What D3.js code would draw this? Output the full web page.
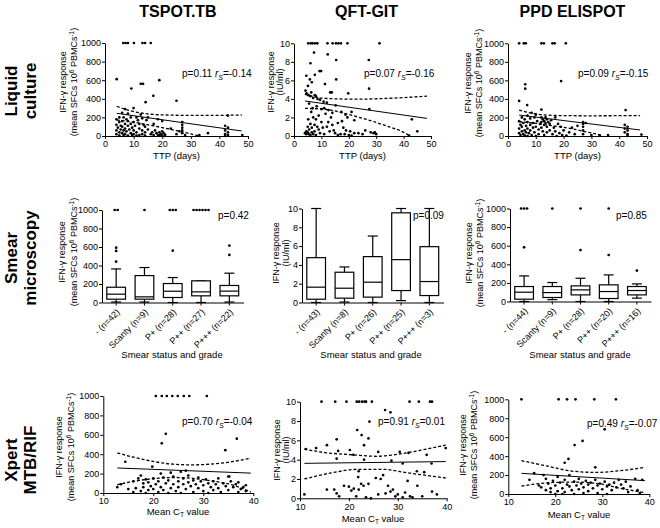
<!DOCTYPE html>
<html><head><meta charset="utf-8">
<script src="https://cdn.jsdelivr.net/npm/d3@7"></script>
<style>body{margin:0;background:#fff}</style>
</head><body>
<svg id="c" width="660" height="528"></svg>
<script>
// ================= DATA =================
const colTitles = ["TSPOT.TB", "QFT-GIT", "PPD ELISPOT"];
const rowTitles = [["Liquid", "culture"], ["Smear", "microscopy"], ["Xpert", "MTB/RIF"]];

const ttpTicks = [0, 10, 20, 30, 40, 50];
const ctTicks = [10, 20, 30, 40];
const sfcTicks = [0, 200, 400, 600, 800, 1000];
const iuTicks = [0, 2, 4, 6, 8, 10];

// Row 1: IFN-g response vs time to positivity (days)
const tspotTTP = [
  [6.4,1000],[7.2,1000],[8.0,1000],[10.1,1000],[13.1,1000],[14.0,1000],[16.0,1000],
  [4.1,611],[9.2,511],[12.5,561],[13.3,561],[19,600],[16.9,432],[14.2,364],[25,379],
  [4,60],[4,120],[4,180],[4,20],[4.5,90],[5,150],[5,40],[5,200],[5,5],[5.5,110],[5.5,70],[6,250],[6,30],[6,160],[6,100],[6.5,60],[6.5,200],[6.5,10],
  [7,290],[7,130],[7,80],[7,20],[7.5,180],[7.5,50],[8,240],[8,110],[8,5],[8,160],[8.5,70],[9,200],[9,30],[9,130],[9.5,90],[9.5,10],
  [10,300],[10,150],[10,60],[10,20],[10.5,110],[11,200],[11,40],[11,5],[11.5,170],[12,80],[12,130],[12,10],[12.5,230],
  [13,190],[13,60],[13,20],[13.5,120],[14,100],[14,40],[14,5],[14.5,170],[15,200],[15,70],
  [16,20],[16.5,40],[17,130],[17,10],[17.5,60],[18,30],[18.5,180],[18.5,10],[19,40],[19,5],[19.5,20],[20,160],[20,50],[20,5],[20.5,30],[21,15],[21,0],
  [23,80],[25,20],[26,50],[27,150],[27,120],[27,90],[27,60],[27,30],[28,10],
  [33,10],[36,30],[42,110],[42,60],[42,20],[42,0],[43,90],[43,40],[43,10],[43,220],[48,10]
];
const qftTTP = [
  [5.2,10],[6.1,10],[6.8,10],[7.7,10],[8.5,10],[12.2,10],[14.1,10],[15.3,10],[16.2,10],[17.1,10],[19.5,10],[31.2,10],
  [7.3,9.0],[12.3,8.8],[15.4,8.2],[27.3,8.2],[6,7.85],[9.3,7.0],[9.9,7.0],[4.5,6.5],[5.8,6.1],[7.6,6.6],[15.4,6.1],[11.3,5.6],[27.4,5.1],[5.1,5.4],[6.5,5.8],
  [4.2,4.9],[4.6,4.6],[5.3,4.4],[6,4.3],[6.3,4.7],[7,4.1],[7.6,4.4],[8,4.3],[8.6,4.0],[9.5,3.9],[10.8,3.7],[12,3.6],[13.2,4.7],[13.8,4.7],[19.8,4.6],
  [5.5,3.5],[6.8,3.0],[8.3,3.2],[10,2.9],[11,3.0],[12.6,2.8],[14,2.5],[15.2,3.3],[17.3,2.6],[18.8,2.3],[19.5,2.0],[21,2.6],[22,1.7],[16,1.4],[27.5,2.9],
  [28,0.4],[29,0.3],[25,0.2],[22,0.3],[20,0.1],[21,0.05],[43,1.8],[45,0.5],[42,0.05],[19,0.6],[18,0.9],[17,0.2],[16,0.1],[15,0.3],[14,1.2],[13,0.5],
  [12,1.0],[12.5,1.5],[11,0.2],[10.5,0.9],[10,1.5],[9.5,0.3],[9,2.2],[9,0.7],[8.5,1.0],[8,0.1],[8,1.8],[7.5,0.5],[7.5,1.2],[7,0.2],[7,2.0],[6.5,0.9],
  [6.5,0.4],[6,1.3],[6,0.1],[5.5,0.7],[5.5,0.2],[5,1.0],[5,0.4],[4.5,0.2],[4.5,0.5],[4,0.3],[6.3,2.6],[5.2,1.8],[11.5,2.4],[13.5,2.0],[14.5,0.6],
  [17.5,1.6],[18.5,0.2],[20.5,0.5],[23.5,0.3],[26,0.6],[29.5,0.4],[30,0.2]
];
const ppdTTP = [
  [4.0,1000],[5.7,1000],[6.4,1000],[12.0,1000],[12.9,1000],[16.0,1000],[16.8,1000],[20.8,1000],
  [6.2,558],[6.2,510],[4,378],[6.9,334],[19.1,593],[42.3,280],[12,285],
  [4,30],[4,80],[4,160],[4.5,10],[4.5,120],[5,50],[5,200],[5,100],[5.5,20],[5.5,140],[6,60],[6,180],[6,5],[6.5,110],[6.5,40],
  [7,220],[7,150],[7,80],[7,0],[7.5,30],[8,190],[8,120],[8,60],[8.5,10],[9,140],[9,90],[9.5,200],[9.5,40],[10,100],[10,0],
  [10.5,160],[11,70],[11,20],[11.5,130],[12,200],[12,150],[12,90],[12.5,180],[12.5,50],[13,160],[13,120],[13,10],[13.5,200],[13.5,140],
  [14,180],[14,100],[14,40],[14.5,150],[15,130],[15,60],[15.5,170],[16,20],[16.5,90],[17,50],[17.5,0],[18,130],[18.5,30],[19,100],[19.5,10],
  [20,60],[21,5],[22,40],[24,20],[27,150],[27,130],[27,100],[27,60],[27,20],[28,140],[30,10],[33,5],[36,10],
  [42,120],[42,80],[42,40],[43,100],[43,60],[43,20],[43,0],[48,15],[23,90],[25,110],[17,200],[10,230],[8.5,250]
];

// Row 3: IFN-g response vs mean CT value
const tspotCT = [
  [20.5,1000],[21.7,1000],[22.7,1000],[23.8,1000],[24.9,1000],[26.1,1000],[27.2,1000],[30.7,1000],
  [22.5,610],[21.7,512],[34.4,441],[14.4,322],[19.8,271],[36.7,560],
  [12.8,60],[13.5,90],[15,40],[16,120],[16.5,50],[17,150],[17.5,180],[17.5,20],[18,100],[18,60],[18.5,140],[19,30],[19,110],[19.5,70],
  [20,150],[20,40],[20.5,90],[21,10],[21,120],[21.5,200],[21.5,60],[22,30],[22,160],[22.5,100],[23,0],[23,130],[23.5,50],[23.5,210],
  [24,90],[24,170],[24.5,20],[25,120],[25,60],[25.5,220],[25.5,0],[26,90],[26,150],[26.5,40],[27,110],[27,180],[27.5,70],[28,10],
  [28,130],[28.5,90],[29,160],[29,50],[29.5,120],[30,20],[30,80],[30.5,140],[31,0],[31,100],[31.5,60],[32,120],[32,30],[32.5,90],
  [33,150],[33,50],[33.5,10],[34,100],[34.5,70],[35,170],[35,30],[35.5,120],[36,60],[36.5,90],[37,10],[37.5,40],[38,60],[38.5,20],
  [18.5,0],[16,10],[26.5,230],[35.2,170],[37,110],[38.5,80]
];
const qftCT = [
  [14.4,10],[17.2,10],[19.5,10],[21.6,10],[22.1,10],[22.7,10],[23.2,10],[23.5,10],[24.7,10],[32.4,10],[34.3,10],[36.6,10],[37.0,10],
  [27.4,9.14],[28.5,8.9],[24.2,7.94],[21.7,7.07],[22.6,6.55],[24.0,6.2],[17.5,6.1],[23.1,5.5],[15.5,5.5],[11.2,5.1],[13.3,5.2],
  [17.8,4.9],[20.2,5.0],[20.9,4.5],[17.5,4.1],[23.1,4.0],[26.0,4.8],[30.4,4.8],[32.2,4.7],[35.9,4.5],[39.8,5.2],[28.7,3.9],
  [31,3.6],[36.9,3.6],[33.9,2.8],[35.4,2.7],[21.9,2.2],[10.9,0.4],
  [15.5,0.9],[17,0.9],[17.5,0.5],[18,0.2],[19,1.3],[20,1.2],[20.5,0.8],[21,1.0],[21.5,0.2],[22,0.9],[22.5,1.5],[23,1.3],[23.5,0.1],
  [24,1.5],[24.5,0.0],[26,0.4],[26.5,2.0],[27,2.4],[27.5,0.5],[28,1.3],[28.5,0.7],[29,0.9],[29.5,0.2],[30,0.4],[31,0.1],[31.5,0.6],
  [32,1.8],[32.5,0.2],[33,0.1],[34,1.3],[35,0.2],[37,0.7],[38,0.4],[22,2.8],[25.5,2.1]
];
const ppdCT = [
  [12.8,1000],[20.7,1000],[22.5,1000],[24.3,1000],[28.3,1000],[32.9,1000],
  [30.5,683],[25.8,560],[24.1,517],[22.8,370],[22,330],[28.5,282],
  [14.5,150],[15.5,220],[16.5,90],[17,70],[17.5,200],[18,40],[18.5,110],[19,60],[19,20],[19.5,140],[20,90],[20.5,30],[20.5,180],
  [21,120],[21.5,60],[21.5,0],[22,150],[22,20],[22.5,100],[23,80],[23,200],[23.5,40],[24,130],[24,0],[24.5,90],[25,160],[25,50],
  [25.5,110],[26,70],[26,10],[26.5,140],[27,100],[27,30],[27.5,120],[28,60],[28.5,150],[29,90],[29,10],[29.5,110],[30,50],[30.5,130],
  [31,80],[31,0],[31.5,100],[32,40],[32.5,120],[33,70],[33.5,150],[34,100],[34.5,60],[35,130],[35.5,20],[36,80],[37,160],[37.5,40],
  [38,10],[38.5,150],[20,0],[18,160]
];

// Regression lines and 95% bands
const fitTspotTTP = [[4.1,244],[47.8,54]];
const upTspotTTP = [[4.1,320],[8,278],[12,250],[16,234],[20,227],[25,223],[30,221],[40,222],[47.8,226]];
const loTspotTTP = [[4.1,172],[8,158],[12,138],[16,115],[20,90],[25,58],[30,22],[33,0]];
const fitQftTTP = [[4,3.78],[48.5,1.9]];
const upQftTTP = [[4,4.5],[10.7,4.07],[22.9,3.97],[35,4.07],[48.5,4.3]];
const loQftTTP = [[4,2.98],[10.7,2.9],[20.5,2.27],[32.7,1.19],[41.8,0.1],[42.3,0]];
const fitPpdTTP = [[4,226],[47.5,65]];
const upPpdTTP = [[4,280],[8,250],[13.8,226],[20,220],[30,218],[40,219],[47.5,220]];
const loPpdTTP = [[4,154],[10,136],[16,110],[22.2,83],[28,45],[33,11],[34,0]];

const fitTspotCT = [[12.8,258],[39.5,205]];
const upTspotCT = [[12.8,413],[16,370],[20,325],[24,297],[28,290],[32,300],[36,325],[39.5,360]];
const loTspotCT = [[12.8,85],[16,120],[20,148],[24,160],[28,150],[32,122],[36,80],[39.5,10]];
const fitQftCT = [[10.9,3.62],[39.8,3.8]];
const upQftCT = [[10.9,5.1],[14.1,4.8],[20.9,4.5],[25.7,4.35],[30.5,4.6],[35.9,5.1],[39.8,5.5]];
const loQftCT = [[10.9,2.0],[16.1,2.6],[21.9,3.0],[27,3.0],[31.8,2.65],[39.8,2.1]];
const fitPpdCT = [[12.8,218],[39.1,141]];
const upPpdCT = [[12.8,352],[18.2,296],[23.8,240],[28.8,228],[33.8,246],[39.1,281]];
const loPpdCT = [[12.8,84],[18.9,120],[23.8,126],[28.8,113],[33.8,60],[39.1,14]];

// Row 2: box plots by smear status and grade  [min, q1, median, q3, max]
const tspotSmearCats = ["- (n=42)", "Scanty (n=9)", "P+ (n=28)", "P++ (n=27)", "P+++ (n=22)"];
const tspotSmearStats = [[5,36,90,165,363],[5,36,61,291,378],[0,54,122,205,270],[0,72,115,234,234],[5,72,123,184,317]];
const tspotSmearOut = [[1000,1000,593,558,442],[1000],[1000,1000,1000,560],[1000,1000,1000,1000,1000,1000],[615,514]];
const qftSmearCats = ["- (n=43)", "Scanty (n=8)", "P+ (n=26)", "P++ (n=25)", "P+++ (n=3)"];
const qftSmearStats = [[0,0.35,1.63,4.77,10],[0.05,0.46,1.52,3.22,3.78],[0,0.57,2.16,4.88,7.07],[0.2,1.27,4.56,9.54,10],[0,0.74,2.23,5.94,10]];
const qftSmearOut = [[],[],[],[],[]];
const ppdSmearCats = ["- (n=44)", "Scanty (n=9)", "P+ (n=28)", "P++ (n=20)", "P+++ (n=16)"];
const ppdSmearStats = [[0,25,100,161,275],[20,43,96,161,204],[0,71,125,168,250],[0,32,107,179,286],[36,71,118,161,189]];
const ppdSmearOut = [[1000,1000,1000,582],[1000],[1000,553],[1000,500],[332]];

const pTTP = [["0.11","-0.14"],["0.07","-0.16"],["0.09","-0.15"]];
const pSmear = ["0.42","0.09","0.85"];
const pCT = [["0.70","-0.04"],["0.91","0.01"],["0.49","-0.07"]];

// ================= DRAWING =================
const F = "'Liberation Sans', Arial, sans-serif";
const svg = d3.select("#c").attr("font-family", F);
const TICK_FS = 9;
const fmt = d3.format("d");

function styleAxis(g) {
  g.attr("font-family", F).attr("font-size", TICK_FS);
  g.selectAll("path,line").attr("stroke", "#000").attr("stroke-width", 1);
}

function yTitle(xs, cy, lines) {
  lines.forEach((ln, i) => {
    const t = svg.append("text").attr("transform", `translate(${xs[i]},${cy}) rotate(-90)`)
      .attr("text-anchor", "middle").attr("dy", "0.35em").attr("font-size", 9);
    ln(t);
  });
}
const lineIFN = t => t.text("IFN-\u03B3 response");
const lineSFC = t => {
  t.append("tspan").text("(mean SFCs 10");
  t.append("tspan").attr("dy", -3).attr("font-size", 6.5).text("6");
  t.append("tspan").attr("dy", 3).text(" PBMCs");
  t.append("tspan").attr("dy", -3).attr("font-size", 6.5).text("-1");
  t.append("tspan").attr("dy", 3).text(")");
};
const lineIU = t => t.text("(IU/ml)");

function pText(x, y, p, r) {
  const t = svg.append("text").attr("x", x).attr("y", y).attr("font-size", 10);
  t.append("tspan").text("p=" + p + (r !== undefined ? " " : ""));
  if (r !== undefined) {
    t.append("tspan").attr("font-style", "italic").text("r");
    t.append("tspan").attr("font-style", "italic").attr("font-size", 7).attr("dy", 2.5).text("S");
    t.append("tspan").attr("dy", -2.5).text("=" + r);
  }
}

function scatterPanel(o) {
  const g = svg.append("g");
  const x = d3.scaleLinear().domain(o.xd).range([o.x0, o.x1]);
  const y = d3.scaleLinear().domain(o.yd).range([o.yb, o.yt]);
  g.append("g").attr("transform", `translate(0,${o.yb})`)
    .call(d3.axisBottom(x).tickValues(o.xticks).tickFormat(fmt).tickSize(3).tickSizeOuter(0).tickPadding(2)).call(styleAxis);
  g.append("g").attr("transform", `translate(${o.x0},0)`)
    .call(d3.axisLeft(y).tickValues(o.yticks).tickFormat(fmt).tickSize(3).tickSizeOuter(0).tickPadding(1)).call(styleAxis);
  const ln = d3.line().x(d => x(d[0])).y(d => y(d[1]));
  const cv = d3.line().x(d => x(d[0])).y(d => y(d[1])).curve(d3.curveMonotoneX);
  [o.up, o.lo].forEach(band =>
    g.append("path").attr("d", cv(band)).attr("fill", "none").attr("stroke", "#000")
      .attr("stroke-width", 1.3).attr("stroke-dasharray", "3,2"));
  g.append("path").attr("d", ln(o.fit)).attr("fill", "none").attr("stroke", "#000").attr("stroke-width", 1);
  g.append("g").selectAll("circle").data(o.pts).join("circle")
    .attr("cx", d => x(d[0])).attr("cy", d => y(d[1])).attr("r", 1.35).attr("fill", "#000");
}

function boxPanel(o) {
  const g = svg.append("g");
  const bw = o.bw;
  const x = d3.scaleBand().domain(o.cats).range([o.x0, o.x0 + bw * o.cats.length]);
  const y = d3.scaleLinear().domain(o.yd).range([o.yb, o.yt]);
  const ax = g.append("g").attr("transform", `translate(0,${o.yb})`)
    .call(d3.axisBottom(x).tickSize(3).tickSizeOuter(0)).call(styleAxis);
  ax.selectAll("text").remove();
  g.append("g").attr("transform", `translate(${o.x0},0)`)
    .call(d3.axisLeft(y).tickValues(o.yticks).tickFormat(fmt).tickSize(3).tickSizeOuter(0).tickPadding(1)).call(styleAxis);
  o.cats.forEach((c, i) => {
    const cx = x(c) + bw / 2;
    g.append("text").attr("transform", `translate(${cx + 2},${o.yb + 8}) rotate(-45)`)
      .attr("text-anchor", "end").attr("dy", "0.35em").attr("font-size", TICK_FS).text(c);
    const s = o.stats[i];
    const w = 18.7, cw = 10;
    const L = (x1, y1, x2, y2) => g.append("line").attr("x1", x1).attr("y1", y1).attr("x2", x2).attr("y2", y2)
      .attr("stroke", "#000").attr("stroke-width", 1.2);
    L(cx, y(s[3]), cx, y(s[4]));
    L(cx, y(s[1]), cx, y(s[0]));
    L(cx - cw / 2, y(s[4]), cx + cw / 2, y(s[4]));
    L(cx - cw / 2, y(s[0]), cx + cw / 2, y(s[0]));
    g.append("rect").attr("x", cx - w / 2).attr("y", y(s[3])).attr("width", w).attr("height", y(s[1]) - y(s[3]))
      .attr("fill", "#fff").attr("stroke", "#000").attr("stroke-width", 1.2);
    L(cx - w / 2, y(s[2]), cx + w / 2, y(s[2]));
    d3.groups(o.out[i], d => d).forEach(([v, arr]) => {
      arr.forEach((_, k) => {
        g.append("circle").attr("cx", cx + (k - (arr.length - 1) / 2) * 3).attr("cy", y(v)).attr("r", 1.35).attr("fill", "#000");
      });
    });
  });
}

function ctTitle(cx, y) {
  const t = svg.append("text").attr("x", cx).attr("y", y).attr("text-anchor", "middle").attr("font-size", 9.5);
  t.append("tspan").text("Mean C");
  t.append("tspan").attr("font-size", 6.5).attr("dy", 2).text("T");
  t.append("tspan").attr("dy", -2).text(" value");
}
function plainTitle(cx, y, s) {
  svg.append("text").attr("x", cx).attr("y", y).attr("text-anchor", "middle").attr("font-size", 9.5).text(s);
}

// Column titles
[178, 366.5, 572.5].forEach((cx, i) => {
  svg.append("text").attr("x", cx).attr("y", 17).attr("text-anchor", "middle")
    .attr("font-size", 16).attr("font-weight", "bold").text(colTitles[i]);
});
// Row titles
[91, 258, 460].forEach((cy, i) => {
  [17, 36].forEach((bx, j) => {
    svg.append("text").attr("transform", `translate(${bx},${cy}) rotate(-90)`).attr("text-anchor", "middle")
      .attr("font-size", 17).attr("font-weight", "bold").text(rowTitles[i][j]);
  });
});

// ---- Row 1 ----
scatterPanel({x0:105, x1:248, yb:136, yt:43, xd:[0,50], yd:[0,1000], xticks:ttpTicks, yticks:sfcTicks, pts:tspotTTP, fit:fitTspotTTP, up:upTspotTTP, lo:loTspotTTP});
scatterPanel({x0:294, x1:431, yb:136, yt:43.3, xd:[0,50], yd:[0,10], xticks:ttpTicks, yticks:iuTicks, pts:qftTTP, fit:fitQftTTP, up:upQftTTP, lo:loQftTTP});
scatterPanel({x0:508, x1:647, yb:136, yt:43.3, xd:[0,50], yd:[0,1000], xticks:ttpTicks, yticks:sfcTicks, pts:ppdTTP, fit:fitPpdTTP, up:upPpdTTP, lo:loPpdTTP});
yTitle([63, 74], 82, [lineIFN, lineSFC]);
yTitle([271, 280], 82, [lineIFN, lineIU]);
yTitle([468, 479], 83, [lineIFN, lineSFC]);
[176.5, 362.5, 577.5].forEach(cx => plainTitle(cx, 159, "TTP (days)"));
pText(182, 77, pTTP[0][0], pTTP[0][1]);
pText(364, 77, pTTP[1][0], pTTP[1][1]);
pText(578, 77, pTTP[2][0], pTTP[2][1]);

// ---- Row 2 ----
boxPanel({x0:102, bw:28.3, yb:302.5, yt:210, yd:[0,1000], yticks:sfcTicks, cats:tspotSmearCats, stats:tspotSmearStats, out:tspotSmearOut});
boxPanel({x0:302, bw:28.3, yb:302.5, yt:208.5, yd:[0,10], yticks:iuTicks, cats:qftSmearCats, stats:qftSmearStats, out:qftSmearOut});
boxPanel({x0:510, bw:28.2, yb:301.5, yt:208.5, yd:[0,1000], yticks:sfcTicks, cats:ppdSmearCats, stats:ppdSmearStats, out:ppdSmearOut});
yTitle([62, 74], 252, [lineIFN, lineSFC]);
yTitle([276, 286], 253, [lineIFN, lineIU]);
yTitle([469, 480], 253, [lineIFN, lineSFC]);
[172, 371, 580].forEach(cx => plainTitle(cx, 358, "Smear status and grade"));
pText(218, 219, pSmear[0]);
pText(413, 219, pSmear[1]);
pText(616, 219, pSmear[2]);

// ---- Row 3 ----
scatterPanel({x0:103.3, x1:253.3, yb:493, yt:396, xd:[10,40], yd:[0,1000], xticks:ctTicks, yticks:sfcTicks, pts:tspotCT, fit:fitTspotCT, up:upTspotCT, lo:loTspotCT});
scatterPanel({x0:300, x1:446.7, yb:498.3, yt:401.7, xd:[10,40], yd:[0,10], xticks:ctTicks, yticks:iuTicks, pts:qftCT, fit:fitQftCT, up:upQftCT, lo:loQftCT});
scatterPanel({x0:508.3, x1:649.3, yb:494, yt:399.3, xd:[10,40], yd:[0,1000], xticks:ctTicks, yticks:sfcTicks, pts:ppdCT, fit:fitPpdCT, up:upPpdCT, lo:loPpdCT});
yTitle([59, 71], 447, [lineIFN, lineSFC]);
yTitle([277, 286], 450, [lineIFN, lineIU]);
yTitle([463, 474], 445, [lineIFN, lineSFC]);
ctTitle(178, 515);
ctTitle(373, 522);
ctTitle(579, 517.5);
pText(182, 425, pCT[0][0], pCT[0][1]);
pText(378, 425, pCT[1][0], pCT[1][1]);
pText(587, 427, pCT[2][0], pCT[2][1]);
</script>
</body></html>
